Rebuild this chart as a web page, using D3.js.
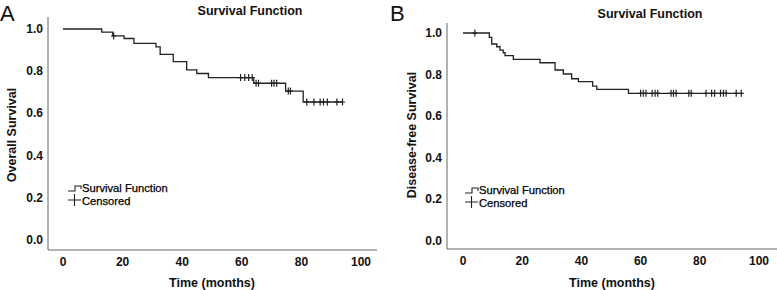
<!DOCTYPE html>
<html>
<head>
<meta charset="utf-8">
<script src="https://cdn.jsdelivr.net/npm/d3@7"></script>
<style>
  body { margin: 0; background: #fff; }
  svg { display: block; font-family: "Liberation Sans", Arial, sans-serif; }
  .tick-label { font-size: 12px; font-weight: bold; fill: #111; }
  .axis-title { font-size: 12.5px; font-weight: bold; fill: #111; }
  .legend-label { font-size: 11.2px; fill: #000; stroke: #000; stroke-width: 0.25px; }
</style>
</head>
<body>
<div id="svg-container"></div>
<script>
// data
const xTicks = [0, 20, 40, 60, 80, 100];
const yTicks = [0.0, 0.2, 0.4, 0.6, 0.8, 1.0];

// Panel A - overall survival
const osTimes = [13.0, 16.7, 20.5, 23.8, 31.2, 32.6, 37.0, 41.5, 44.9, 48.8, 64.0, 74.7, 80.6];
const osSurv = [0.985, 0.967, 0.955, 0.932, 0.915, 0.880, 0.845, 0.806, 0.789, 0.770, 0.743, 0.706, 0.654];
const osCensored = [17.0, 59.6, 61.0, 62.3, 63.5, 64.8, 65.6, 70.0, 70.8, 71.7, 75.6, 76.3, 81.8, 84.2, 86.3, 87.4, 88.7, 91.9, 93.8];

// Panel B - disease-free survival
const dfsTimes = [8.9, 9.7, 11.4, 12.5, 13.6, 14.2, 17.0, 26.0, 31.1, 33.9, 36.7, 39.0, 43.8, 45.2, 55.9];
const dfsSurv = [0.979, 0.947, 0.934, 0.918, 0.905, 0.891, 0.873, 0.857, 0.822, 0.803, 0.780, 0.766, 0.745, 0.729, 0.710];
const dfsCensored = [4.0, 60.0, 60.9, 61.8, 63.9, 64.9, 65.8, 70.3, 71.1, 72.0, 76.3, 77.1, 82.1, 84.0, 85.0, 87.0, 88.0, 88.9, 92.3, 94.0];

const width = 777, height = 290;
const svg = d3.select("#svg-container").append("svg")
  .attr("width", width).attr("height", height);

const panels = [
  { letter: "A", lx: 0, yTitle: "Overall Survival", ytx: 16,
    axisX: 48, axisTop: 17, axisY: 250, axisRight: 377,
    xr: [63, 361], yr: [240, 29], titleX: 250, titleY: 15,
    times: osTimes, surv: osSurv, cens: osCensored, legX: 68, legY: 188 },
  { letter: "B", lx: 390, yTitle: "Disease-free Survival", ytx: 416,
    axisX: 447, axisTop: 23, axisY: 249, axisRight: 777,
    xr: [463, 759], yr: [241, 33], titleX: 650, titleY: 18,
    times: dfsTimes, surv: dfsSurv, cens: dfsCensored, legX: 465, legY: 190 }
];

panels.forEach((p) => {
  const g = svg.append("g");
  const x = d3.scaleLinear().domain([0, 100]).range(p.xr);
  const y = d3.scaleLinear().domain([0, 1]).range(p.yr);

  // panel letter
  g.append("text").attr("x", p.lx).attr("y", 21)
    .style("font-size", "22px").style("fill", "#111").text(p.letter);

  // title
  g.append("text").attr("class", "axis-title")
    .attr("x", p.titleX).attr("y", p.titleY)
    .attr("text-anchor", "middle").text("Survival Function");

  // axes lines
  g.append("line").attr("x1", p.axisX).attr("x2", p.axisX)
    .attr("y1", p.axisTop).attr("y2", p.axisY)
    .attr("stroke", "#666").attr("stroke-width", 1);
  g.append("line").attr("x1", p.axisX).attr("x2", p.axisRight)
    .attr("y1", p.axisY).attr("y2", p.axisY)
    .attr("stroke", "#666").attr("stroke-width", 1);

  // tick labels
  g.selectAll(".ylab").data(yTicks).enter().append("text")
    .attr("class", "tick-label")
    .attr("x", p.axisX - 5).attr("y", (d) => y(d) + 4)
    .attr("text-anchor", "end").text((d) => d3.format(".1f")(d));
  g.selectAll(".xlab").data(xTicks).enter().append("text")
    .attr("class", "tick-label")
    .attr("x", (d) => x(d)).attr("y", p.axisY + 16)
    .attr("text-anchor", "middle").text((d) => d);

  // axis titles
  g.append("text").attr("class", "axis-title")
    .attr("x", (p.xr[0] + p.xr[1]) / 2 + (p.axisRight - p.xr[1]) / 2 - 8)
    .attr("y", 287).attr("text-anchor", "middle").text("Time (months)");
  g.append("text").attr("class", "axis-title")
    .attr("transform", `translate(${p.ytx},135) rotate(-90)`)
    .attr("text-anchor", "middle").text(p.yTitle);

  // survival step curve
  const lastCens = d3.max(p.cens);
  const pts = [[0, 1]];
  p.times.forEach((t, i) => pts.push([t, p.surv[i]]));
  pts.push([lastCens, p.surv[p.surv.length - 1]]);
  const line = d3.line().curve(d3.curveStepAfter)
    .x((d) => x(d[0])).y((d) => y(d[1]));
  g.append("path").datum(pts).attr("d", line)
    .attr("fill", "none").attr("stroke", "#222").attr("stroke-width", 1.3);

  // censored marks
  const survAt = (t) => {
    let s = 1;
    p.times.forEach((tt, i) => { if (tt <= t) s = p.surv[i]; });
    return s;
  };
  g.selectAll(".cens").data(p.cens).enter().append("path")
    .attr("d", (d) => {
      const cx = x(d), cy = y(survAt(d));
      return `M${cx},${cy - 3.5}V${cy + 3.5}M${cx - 2.5},${cy}H${cx + 2.5}`;
    })
    .attr("stroke", "#222").attr("stroke-width", 1.2).attr("fill", "none");

  // legend
  const lx = p.legX, ly = p.legY;
  g.append("path")
    .attr("d", `M${lx},${ly + 3}H${lx + 7}V${ly - 2}H${lx + 13}V${ly + 1}`)
    .attr("fill", "none").attr("stroke", "#222").attr("stroke-width", 1.1);
  g.append("text").attr("class", "legend-label")
    .attr("x", lx + 14).attr("y", ly + 4).text("Survival Function");
  g.append("path")
    .attr("d", `M${lx},${ly + 12}H${lx + 13}M${lx + 6.5},${ly + 6}V${ly + 18}`)
    .attr("fill", "none").attr("stroke", "#222").attr("stroke-width", 1.1);
  g.append("text").attr("class", "legend-label")
    .attr("x", lx + 14).attr("y", ly + 17).text("Censored");
});
</script>
</body>
</html>
